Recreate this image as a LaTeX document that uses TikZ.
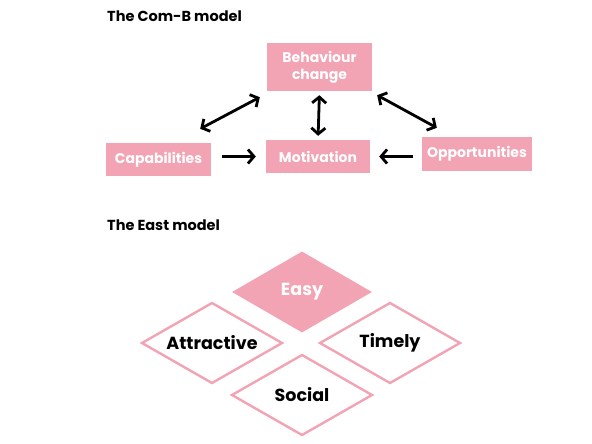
\documentclass[tikz,border=0pt]{standalone}
\usepackage{fontspec}
\setmainfont{Poppins}
\usetikzlibrary{arrows.meta,shapes.geometric}
\definecolor{pinkc}{HTML}{F2A3B4}
\tikzset{
  box/.style={fill=pinkc, draw=none, text=white, font=\bfseries\fontsize{14}{17}\selectfont, align=center, inner sep=0pt},
  conn/.style={line width=2.8pt, {Straight Barb[length=6pt,width=14pt]}-{Straight Barb[length=6pt,width=14pt]}},
  oneway/.style={line width=2.8pt, -{Straight Barb[length=6pt,width=14pt]}},
  title/.style={font=\bfseries\fontsize{14.5}{17}\selectfont, anchor=west, inner sep=0pt},
  dia/.style={diamond, shape aspect=1.74, inner sep=0pt, font=\bfseries\fontsize{17.5}{20}\selectfont},
}
\begin{document}
\begin{tikzpicture}[x=1pt,y=-1pt]
\useasboundingbox (0,0) rectangle (592,444);
\node[title] (t1) at (107,16) {The Com-B model};
\node[title] (t2) at (107,225) {The East model};

\node[box, minimum width=105pt, minimum height=48pt] (bc) at (319.5,67) {Behaviour\\change};
\node[box, minimum width=105pt, minimum height=33pt] (cap) at (158.5,159.5) {Capabilities};
\node[box, minimum width=104pt, minimum height=33pt] (mot) at (318,156.5) {Motivation};
\node[box, minimum width=110pt, minimum height=34pt] (opp) at (477,154) {Opportunities};

\draw[oneway, shorten <=11pt, shorten >=10pt] (mot.west -| cap.east) -- (mot.west);
\draw[oneway, shorten <=9pt, shorten >=9pt] (mot.east -| opp.west) -- (mot.east);
\draw[conn, shorten <=4pt, shorten >=4pt] (bc.south) -- (mot.north);
\draw[conn] ([shift={(-11,-14)}]cap.north east) -- ([shift={(-7,6)}]bc.south west);
\draw[conn] ([shift={(5,4)}]bc.south east) -- ([shift={(15,-9)}]opp.north west);

\node[dia, fill=pinkc, text=white, minimum width=140pt, minimum height=81pt] (easy) at (302,292) {Easy};
\node[dia, draw=pinkc, line width=2.4pt, minimum width=141pt, minimum height=81pt] (att) at (212,343) {Attractive};
\node[dia, draw=pinkc, line width=2.4pt, minimum width=141pt, minimum height=81pt] (tim) at (390,343) {Timely};
\node[dia, draw=pinkc, line width=2.4pt, minimum width=141pt, minimum height=81pt] (soc) at (302,395) {Social};
\end{tikzpicture}
\end{document}
